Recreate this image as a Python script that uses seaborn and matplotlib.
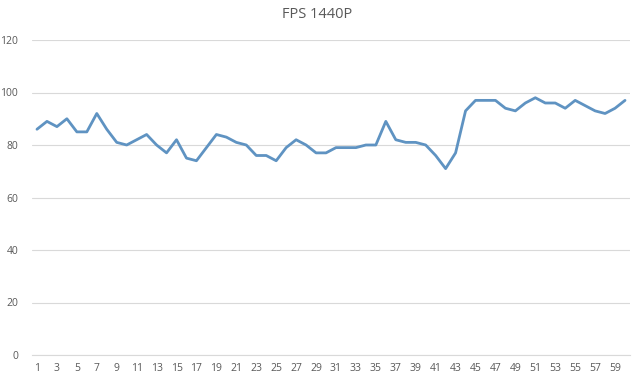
import matplotlib
matplotlib.use("Agg")
import matplotlib.pyplot as plt
import seaborn as sns
import pandas as pd

frames = list(range(1, 61))
fps = [86, 89, 87, 90, 85, 85, 92, 86, 81, 80,
       82, 84, 80, 77, 82, 75, 74, 79, 84, 83,
       81, 80, 76, 76, 74, 79, 82, 80, 77, 77,
       79, 79, 79, 80, 80, 89, 82, 81, 81, 80,
       76, 71, 77, 93, 97, 97, 97, 94, 93, 96,
       98, 96, 96, 94, 97, 95, 93, 92, 94, 97]
x_ticks = list(range(1, 61, 2))
y_ticks = [0, 20, 40, 60, 80, 100, 120]
title = "FPS 1440P"

sns.set_theme(style="white")
plt.rcParams['font.family'] = ['Open Sans', 'DejaVu Sans']

df = pd.DataFrame({"frame": frames, "fps": fps})

fig = plt.figure(figsize=(6.4, 3.8), dpi=100)
ax = fig.add_axes([32/640, 1 - 355/380, (630 - 32)/640, (355 - 40)/380])

sns.lineplot(data=df, x="frame", y="fps", ax=ax, color="#5f93c2", linewidth=2.0)

ax.set_xlim(0.5, 60.5)
ax.set_ylim(0, 120)
ax.set_yticks(y_ticks)
ax.set_xticks(x_ticks)
ax.set_xticklabels([str(t) for t in x_ticks])
ax.yaxis.grid(True, color="#d9d9d9", linewidth=0.8)
ax.set_axisbelow(True)
for s in ["top", "right", "left"]:
    ax.spines[s].set_visible(False)
ax.spines["bottom"].set_color("#d9d9d9")
ax.spines["bottom"].set_linewidth(0.8)
ax.tick_params(axis="both", length=0, colors="#595959", labelsize=7.5)
ax.tick_params(axis="y", pad=10)
ax.tick_params(axis="x", pad=6)
ax.set_xlabel("")
ax.set_ylabel("")
fig.text(317/640, 1 - 15/380, title, ha="center", va="center", fontsize=10.5, color="#595959")

fig.savefig("out.png", dpi=100, facecolor="white")
